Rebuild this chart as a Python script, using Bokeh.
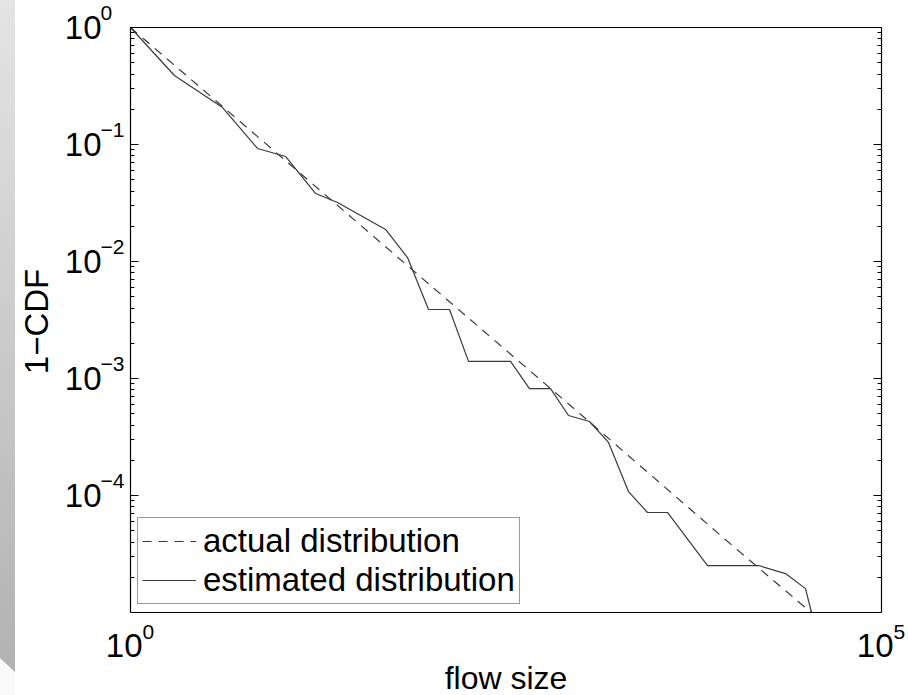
import math
from bokeh.plotting import figure
from bokeh.layouts import row
from bokeh.models import (FixedTicker, LogAxis, Label, Legend, LegendItem,
                          CustomJSTickFormatter, Div)
from bokeh.embed import file_html
from bokeh.resources import INLINE

# ---------------- data ----------------
actual_x = [1, 10, 100, 1000, 10000, 34000]
actual_y = [1.0, 0.079, 0.0062, 4.9e-4, 3.8e-5, 1.0e-5]

est_x = [1, 1.96, 4.10, 7.01, 10.8, 17.1, 23.9, 49.9, 69.9, 96.4, 133, 178,
         339, 453, 626, 824, 1138, 1522, 2068, 2767, 3760, 6946, 15180,
         22950, 31190, 34200]
est_y = [1.0, 0.389, 0.207, 0.0925, 0.0789, 0.0381, 0.0319, 0.0188, 0.0108,
         0.00389, 0.00389, 0.0014, 0.0014, 8.2e-4, 8.2e-4, 4.83e-4, 4.29e-4,
         2.84e-4, 1.08e-4, 7.16e-5, 7.16e-5, 2.52e-5, 2.52e-5, 2.15e-5,
         1.60e-5, 1.0e-5]

x_limits = (1, 1e5)
y_limits = (1e-5, 1)
y_tick_values = [1, 0.1, 0.01, 0.001, 1e-4]
y_tick_exps = ["0", "\u22121", "\u22122", "\u22123", "\u22124"]
x_tick_values = [1, 1e5]
x_tick_exps = ["0", "5"]

x_label = "flow size"
y_label = "1\u2212CDF"
series_labels = ["actual distribution", "estimated distribution"]

FONT = "Liberation Sans"
LINE_COLOR = "#3a3a3a"
W_STRIP, H = 15, 695
W = 908 - W_STRIP

# plot box inside the canvas (pixels): left, right, top, bottom margins
M_LEFT, M_RIGHT, M_TOP, M_BOTTOM = 115, 27, 27, 83

# ---------------- left decorative strip (slide background) ----------------
strip_svg = (
    f'<svg width="{W_STRIP}" height="{H}" style="display:block">'
    '<defs><linearGradient id="g" x1="0" y1="0" x2="0" y2="1">'
    '<stop offset="0" stop-color="#e4e4e4"/><stop offset="1" stop-color="#b2b2b2"/>'
    '</linearGradient></defs>'
    f'<rect width="{W_STRIP}" height="{H}" fill="#fafafa"/>'
    f'<polygon points="0,0 {W_STRIP},0 {W_STRIP},672 0,658" fill="url(#g)"/>'
    '</svg>')
strip = Div(text=strip_svg, width=W_STRIP, height=H, margin=0,
            styles={"padding": "0", "margin": "0", "overflow": "hidden"})

# ---------------- main plot ----------------
# The frame spans the whole canvas; the log ranges are widened so that the
# plot box (x 1..1e5, y 1e-5..1) sits at the chosen margins.
lx0, lx1 = math.log10(x_limits[0]), math.log10(x_limits[1])
ly0, ly1 = math.log10(y_limits[0]), math.log10(y_limits[1])
dec_x = (lx1 - lx0) / (W - M_LEFT - M_RIGHT)
dec_y = (ly1 - ly0) / (H - M_TOP - M_BOTTOM)
x_range = (10 ** (lx0 - M_LEFT * dec_x), 10 ** (lx1 + M_RIGHT * dec_x))
y_range = (10 ** (ly0 - M_BOTTOM * dec_y), 10 ** (ly1 + M_TOP * dec_y))

p = figure(width=W, height=H, x_axis_type="log", y_axis_type="log",
           x_range=x_range, y_range=y_range,
           output_backend="svg", toolbar_location=None,
           min_border=0, background_fill_color="white",
           border_fill_color="white", outline_line_color=None, margin=0)
p.grid.visible = False
# remove the default edge axes; the box axes are added below at fixed places
p.below = []
p.left = []

y_minor = [m * 10.0 ** k for k in range(-5, 0) for m in range(2, 10)]
empty_fmt = CustomJSTickFormatter(code="return ''")


def make_yaxis(loc):
    return LogAxis(fixed_location=loc, bounds=y_limits,
                   ticker=FixedTicker(ticks=y_tick_values, minor_ticks=y_minor),
                   formatter=empty_fmt, axis_line_color="black",
                   axis_line_width=1.2,
                   major_tick_in=8, major_tick_out=0,
                   minor_tick_in=4, minor_tick_out=0,
                   major_tick_line_color="black", minor_tick_line_color="black",
                   major_label_standoff=0)


def make_xaxis(loc):
    return LogAxis(fixed_location=loc, bounds=x_limits,
                   ticker=FixedTicker(ticks=[], minor_ticks=[]),
                   formatter=empty_fmt, axis_line_color="black",
                   axis_line_width=1.2,
                   major_tick_line_color=None, minor_tick_line_color=None,
                   major_label_standoff=0)


p.add_layout(make_yaxis(x_limits[0]), "left")
p.add_layout(make_yaxis(x_limits[1]), "right")
p.add_layout(make_xaxis(y_limits[0]), "below")
p.add_layout(make_xaxis(y_limits[1]), "above")

r_actual = p.line(actual_x, actual_y, line_color=LINE_COLOR, line_width=1.2,
                  line_dash="9 7")
r_est = p.line(est_x, est_y, line_color=LINE_COLOR, line_width=1.2)

legend = Legend(items=[LegendItem(label=series_labels[0], renderers=[r_actual]),
                       LegendItem(label=series_labels[1], renderers=[r_est])],
                location=(M_LEFT + 7, M_BOTTOM + 8), label_text_font=FONT,
                label_text_font_size="33px", label_text_color="black",
                glyph_width=54, glyph_height=36, label_height=36,
                label_standoff=7, padding=4, spacing=1, margin=0,
                border_line_color="#333333", border_line_width=1.2,
                background_fill_color="white", background_fill_alpha=1)
p.add_layout(legend)


def txt(**kw):
    kw.setdefault("text_baseline", "middle")
    kw.setdefault("text_font", FONT)
    kw.setdefault("text_color", "black")
    p.add_layout(Label(**kw))


# tick labels (10 with superscript exponent)
for v, e in zip(y_tick_values, y_tick_exps):
    txt(x=x_limits[0], y=v, x_offset=-29, y_offset=0, text="10",
        text_align="right", text_font_size="33px")
    txt(x=x_limits[0], y=v, x_offset=-30, y_offset=15, text=e,
        text_align="left", text_font_size="21px")

for v, e in zip(x_tick_values, x_tick_exps):
    txt(x=v, y=y_limits[0], x_offset=12, y_offset=-33, text="10",
        text_align="right", text_font_size="33px")
    txt(x=v, y=y_limits[0], x_offset=12, y_offset=-19.5, text=e,
        text_align="left", text_font_size="21px")

# axis titles
txt(x=10 ** ((lx0 + lx1) / 2), y=y_limits[0], y_offset=-65, text=x_label,
    text_align="center", text_font_size="32px")
txt(x=x_limits[0], y=10 ** ((ly0 + ly1) / 2), x_offset=-94.5, y_offset=-1.5,
    text=y_label, angle=math.pi / 2, text_align="center", text_font_size="33px")

layout = row(strip, p, spacing=0, margin=0)
open("out.html", "w").write(file_html(layout, INLINE))
